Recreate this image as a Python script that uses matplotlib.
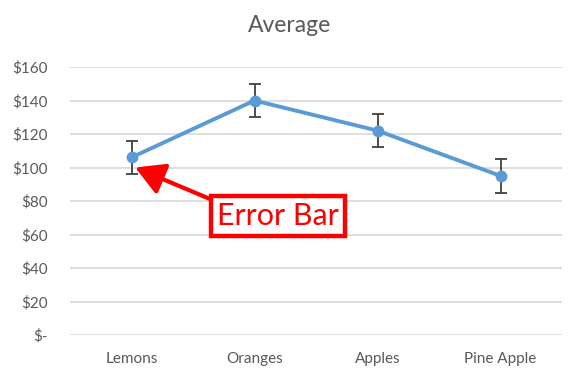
import matplotlib
matplotlib.use("Agg")
import matplotlib.pyplot as plt

categories = ["Lemons", "Oranges", "Apples", "Pine Apple"]
values = [106, 140, 122, 95]
errors = [10, 10, 10, 10]
yticks = [0, 20, 40, 60, 80, 100, 120, 140, 160]

plt.rcParams['font.family'] = ['Lato', 'DejaVu Sans']

fig = plt.figure(figsize=(5.79, 3.76), dpi=100)
ax = fig.add_axes([70/579, 1-335/376, 492/579, 268/376])

x = list(range(len(categories)))
ax.errorbar(x, values, yerr=errors, color='#5B9BD5', lw=2.8, marker='o',
            markersize=7.5, ecolor='#404040', elinewidth=1.3, capsize=4,
            capthick=1.3, zorder=3)

ax.set_xlim(-0.5, 3.5)
ax.set_ylim(0, 160)
ax.set_yticks(yticks)
ax.set_yticklabels(["$-" if v == 0 else f"${v}" for v in yticks])
ax.set_xticks(x)
ax.set_xticklabels(categories)
ax.grid(axis='y', color='#D9D9D9', lw=1.2)
ax.set_axisbelow(True)
for s in ax.spines.values():
    s.set_visible(False)
ax.tick_params(axis='both', length=0, colors='#595959', labelsize=11)
ax.tick_params(axis='y', pad=16)
ax.tick_params(axis='x', pad=12)

fig.text(0.5, 1-26/376, "Average", ha='center', va='center', fontsize=16.5, color='#595959')

ax.annotate("Error Bar", xy=(0.03, 100), xytext=(278/579, 1-216/376),
            textcoords='figure fraction', ha='center', va='center',
            fontsize=22, color='red',
            bbox=dict(boxstyle='square,pad=0.2', fc='white', ec='red', lw=3.2),
            arrowprops=dict(arrowstyle='-|>,head_length=0.8,head_width=0.45',
                            color='red', lw=3, shrinkA=0, shrinkB=0,
                            relpos=(0, 1)),
            zorder=5)

fig.savefig("out.png", dpi=100)
